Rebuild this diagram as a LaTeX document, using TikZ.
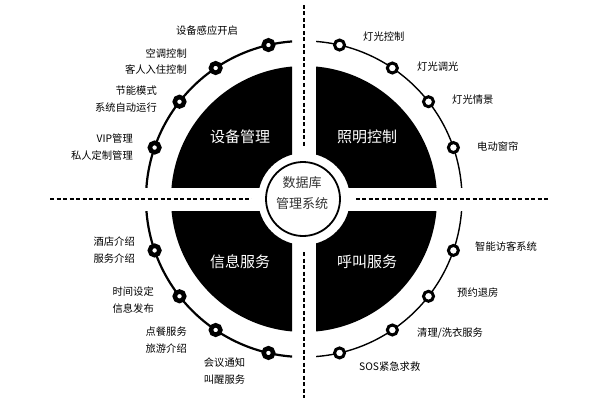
\documentclass[tikz,border=0pt]{standalone}
\usepackage{fontspec}
\setmainfont{Noto Sans CJK SC}
\begin{document}
\begin{tikzpicture}[x=1pt,y=1pt,
  lbl/.style={font=\fontsize{10.3}{16.5}\selectfont, inner sep=0pt},
  big/.style={font=\fontsize{15}{18}\selectfont, text=white, inner sep=0pt},
  dotL/.style={circle, draw=black, line width=4.5pt, fill=white, minimum size=9.5pt, inner sep=0pt},
  dotR/.style={circle, draw=black, line width=3pt, fill=white, minimum size=10pt, inner sep=0pt},
  sep/.style={line width=1.6pt, dash pattern=on 4pt off 2.5pt},
  ringL/.style={line width=2.2pt},
  ringR/.style={line width=1.4pt}]
\useasboundingbox (0,0) rectangle (600,400);
\fill[white] (0,0) rectangle (600,400);
\coordinate (C) at (304,201);
\coordinate (hl) at (50,201);
\coordinate (hr) at (548,201);
\coordinate (vt) at (304,395);
\coordinate (vb) at (304,2);
% dashed separators
\draw[sep] (hl) -- (hr);
\draw[sep] (vt) -- (vb);
\fill[white] (C) circle[radius=52];
% quadrants
\begin{scope}
  \clip ([shift={(-220,12)}]C) rectangle ([shift={(-12,220)}]C);
  \fill[black, even odd rule] (C) circle[radius=133] (C) circle[radius=46];
  \draw[ringL] (C) circle[radius=158];
\end{scope}
\begin{scope}
  \clip ([shift={(12,12)}]C) rectangle ([shift={(220,220)}]C);
  \fill[black, even odd rule] (C) circle[radius=133] (C) circle[radius=46];
  \draw[ringR] (C) circle[radius=158];
\end{scope}
\begin{scope}
  \clip ([shift={(-220,-12)}]C) rectangle ([shift={(-12,-220)}]C);
  \fill[black, even odd rule] (C) circle[radius=133] (C) circle[radius=46];
  \draw[ringL] (C) circle[radius=158];
\end{scope}
\begin{scope}
  \clip ([shift={(12,-12)}]C) rectangle ([shift={(220,-220)}]C);
  \fill[black, even odd rule] (C) circle[radius=133] (C) circle[radius=46];
  \draw[ringR] (C) circle[radius=158];
\end{scope}
% centre
\node[circle, draw=black, line width=1.8pt, fill=white, minimum size=74pt, inner sep=0pt] (db) at ([shift={(-1,0)}]C) {};
\node[font=\fontsize{13}{21}\selectfont, text=black!80, align=center, inner sep=0pt] (dbt) at (302,206.5) {数据库\\管理系统};
% big labels
\node[big] (q1) at (240,263) {设备管理};
\node[big] (q2) at (367,263) {照明控制};
\node[big] (q3) at (240,138) {信息服务};
\node[big] (q4) at (367,138) {呼叫服务};
% dots
\foreach \a/\n in {103/a1,124/a2,142/a3,161/a4,199/c1,218/c2,236/c3,257/c4}
  \node[dotL] (\n) at ([shift={(\a:158)}]C) {};
\foreach \a/\n in {77/b1,56/b2,38/b3,19/b4,341/d1,322/d2,304/d3,283/d4}
  \node[dotR] (\n) at ([shift={(\a:158)}]C) {};
% top-left labels
\node[lbl] (t1) at (207,369) {设备感应开启};
\node[lbl, anchor=east, align=right] (t2) at (187,338.5) {空调控制\\客人入住控制};
\node[lbl, anchor=east, align=right] (t3) at (157,301) {节能模式\\系统自动运行};
\node[lbl, anchor=east, align=right] (t4) at (133,253) {VIP管理\\私人定制管理};
% top-right labels
\node[lbl, anchor=west] (u1) at (363,363) {灯光控制};
\node[lbl, anchor=west] (u2) at (417,333) {灯光调光};
\node[lbl, anchor=west] (u3) at (452,300) {灯光情景};
\node[lbl, anchor=west] (u4) at (477,253) {电动窗帘};
% bottom-left labels
\node[lbl, anchor=east, align=left] (v1) at (135,150) {酒店介绍\\服务介绍};
\node[lbl, anchor=east, align=left] (v2) at (154,100) {时间设定\\信息发布};
\node[lbl, anchor=east, align=left] (v3) at (187,60) {点餐服务\\旅游介绍};
\node[lbl, align=left] (v4) at (224.5,29) {会议通知\\叫醒服务};
% bottom-right labels
\node[lbl, anchor=west] (w1) at (475,153) {智能访客系统};
\node[lbl, anchor=west] (w2) at (457,107) {预约退房};
\node[lbl, anchor=west] (w3) at (417,67) {清理/洗衣服务};
\node[lbl, anchor=west] (w4) at (359,33) {SOS紧急求救};
\end{tikzpicture}
\end{document}
